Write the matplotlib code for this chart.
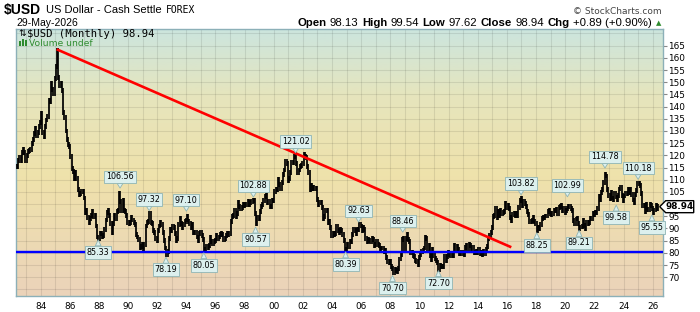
import matplotlib
matplotlib.use("Agg")
import matplotlib.pyplot as plt
import numpy as np
from matplotlib.colors import LinearSegmentedColormap
from matplotlib.patches import Polygon, Rectangle
from matplotlib.transforms import IdentityTransform

W, H = 700, 312

# DATA - monthly closes of $USD, first bar is May 1982
start_year, start_month = 1982, 5
usd_1980s = [
    115.5, 118.0, 119.0, 118.0, 121.0, 122.5, 121.0, 118.0,                     # 1982
    120.0, 121.5, 122.0, 122.5, 125.0, 126.5, 129.0, 131.0, 128.0, 129.5, 132.0, 133.5,
    137.0, 129.5, 127.5, 132.0, 134.5, 136.0, 142.5, 142.0, 149.5, 147.0, 145.5, 151.5,
    156.5, 163.0, 152.0, 148.5, 149.5, 146.5, 137.5, 135.5, 130.0, 126.5, 124.5, 123.5,
    119.5, 114.5, 113.5, 110.5, 113.0, 110.5, 106.0, 104.0, 104.5, 105.0, 105.0, 102.5,
    96.5, 97.5, 94.5, 92.5, 94.0, 95.5, 97.0, 95.0, 95.5, 91.0, 86.5, 86.0,
    88.0, 88.0, 86.5, 87.0, 89.5, 93.5, 96.5, 97.5, 95.5, 92.0, 88.5, 92.0,
    95.5, 94.0, 97.0, 97.5, 104.5, 101.0, 97.5, 101.5, 97.5, 97.0, 95.5, 92.5,
]
usd_1990s = [
    92.0, 92.5, 94.5, 93.5, 92.5, 91.5, 87.5, 86.5, 85.5, 82.0, 82.5, 83.5,
    81.5, 83.5, 91.0, 92.5, 93.0, 96.0, 92.5, 92.0, 89.0, 88.5, 86.0, 85.0,
    89.0, 91.0, 92.5, 91.5, 88.5, 85.0, 82.0, 79.5, 80.5, 86.0, 89.5, 89.0,
    91.0, 90.5, 88.0, 85.0, 86.0, 91.5, 94.0, 92.0, 90.5, 91.5, 93.0, 93.5,
    95.0, 93.0, 92.0, 90.5, 91.5, 88.5, 88.5, 88.5, 86.5, 85.0, 88.0, 88.5,
    87.0, 85.5, 81.5, 81.5, 82.5, 82.0, 83.0, 86.5, 84.5, 84.0, 84.5, 85.0,
    87.0, 86.0, 86.5, 87.5, 88.0, 87.5, 85.5, 86.0, 87.0, 88.0, 87.5, 88.0,
    93.0, 95.0, 95.5, 97.5, 95.0, 96.0, 100.5, 99.0, 98.0, 98.5, 100.0, 99.5,
    100.0, 100.0, 101.0, 100.0, 100.5, 101.0, 101.5, 101.5, 96.0, 92.0, 94.5, 94.0,
    97.0, 99.0, 100.0, 101.5, 103.0, 103.5, 100.5, 101.0, 99.0, 99.0, 101.5, 101.5,
]
usd_2000s = [
    105.0, 106.0, 106.0, 110.0, 108.0, 106.5, 109.0, 112.0, 114.0, 117.5, 116.5, 109.5,
    110.5, 113.0, 117.0, 117.0, 119.5, 120.3, 116.5, 113.0, 114.0, 115.5, 116.0, 116.5,
    120.5, 119.5, 119.0, 115.5, 113.0, 106.0, 107.5, 106.5, 107.0, 106.5, 106.5, 102.0,
    100.0, 100.5, 100.5, 98.5, 94.0, 95.0, 97.5, 97.5, 92.5, 93.0, 90.5, 87.0,
    88.0, 87.5, 88.0, 91.0, 89.0, 88.5, 89.5, 89.0, 87.5, 85.0, 81.5, 81.0,
    83.5, 82.5, 84.5, 84.5, 87.5, 89.5, 89.0, 88.0, 89.5, 89.5, 91.5, 91.0,
    89.0, 90.5, 89.5, 86.0, 84.5, 85.5, 85.0, 84.5, 86.0, 85.5, 83.0, 83.5,
    84.5, 83.5, 83.0, 81.5, 82.0, 82.0, 80.5, 81.0, 78.0, 76.5, 76.0, 76.5,
    74.5, 73.5, 72.0, 73.0, 72.8, 72.5, 73.5, 77.5, 79.5, 85.5, 86.0, 81.5,
    86.0, 87.5, 85.5, 84.5, 80.0, 80.0, 79.0, 78.5, 76.8, 76.5, 75.0, 78.0,
]
usd_2010s = [
    79.5, 80.5, 81.0, 82.0, 86.5, 86.0, 81.5, 83.0, 79.0, 77.2, 81.2, 79.0,
    77.6, 76.8, 76.0, 73.3, 74.7, 74.3, 74.2, 74.5, 78.6, 76.9, 78.5, 80.2,
    79.3, 78.9, 79.0, 78.9, 83.2, 81.6, 82.7, 81.2, 79.9, 79.9, 80.1, 79.8,
    79.3, 82.2, 83.0, 81.9, 83.5, 83.1, 81.5, 82.1, 80.2, 80.2, 80.7, 80.2,
    81.2, 79.7, 80.1, 79.5, 80.4, 79.8, 81.5, 82.7, 86.0, 87.0, 88.4, 90.3,
    94.8, 95.3, 98.4, 94.6, 96.9, 95.5, 97.3, 96.0, 96.4, 96.9, 100.2, 98.7,
    99.6, 98.2, 94.6, 93.1, 95.9, 96.1, 95.5, 96.0, 95.5, 98.5, 101.5, 102.2,
    99.5, 101.1, 100.4, 99.0, 97.0, 95.6, 92.9, 92.7, 93.1, 94.5, 93.0, 92.1,
    89.1, 90.6, 89.9, 91.8, 94.0, 94.5, 94.5, 95.1, 95.1, 97.1, 97.3, 96.2,
    95.6, 96.2, 97.3, 97.5, 97.8, 96.1, 98.5, 98.9, 99.4, 97.4, 98.3, 96.4,
]
usd_2020s = [
    97.4, 98.1, 99.0, 99.0, 98.3, 97.4, 93.3, 92.1, 93.9, 94.0, 91.9, 89.9,
    90.6, 90.9, 93.2, 91.3, 90.0, 92.4, 92.2, 92.6, 94.2, 94.1, 96.0, 95.7,
    96.5, 96.7, 98.3, 103.0, 101.8, 104.7, 105.9, 108.7, 112.1, 111.5, 105.9, 103.5,
    102.1, 104.9, 102.5, 101.7, 104.3, 102.9, 101.9, 103.6, 106.2, 106.7, 103.5, 101.3,
    103.3, 104.2, 104.5, 106.2, 104.7, 105.9, 104.1, 101.7, 100.8, 104.0, 105.7, 108.5,
    108.4, 107.6, 104.2, 99.5, 99.3, 96.9, 100.0, 97.8, 97.8, 99.8, 99.5, 98.3,
    96.6, 97.6, 99.5, 98.1, 98.94,                                               # 2026
]

# marked highs and lows
mark_years = [1987.95, 1989.45, 1991.45, 1992.6, 1994.0, 1995.2, 1998.6, 1998.75,
              2001.5, 2004.93, 2005.82, 2008.15, 2008.85, 2011.3, 2016.97, 2018.05,
              2020.15, 2020.95, 2022.73, 2023.5, 2025.0, 2025.95]
mark_values = [85.33, 106.56, 97.32, 78.19, 97.10, 80.05, 102.88, 90.57,
               121.02, 80.39, 92.63, 70.70, 88.46, 72.70, 103.82, 88.25,
               102.99, 89.21, 114.78, 99.58, 110.18, 95.55]
mark_high = [False, True, True, False, True, False, True, False,
             True, False, True, False, True, False, True, False,
             True, False, True, False, True, False]

# drawn trend line and support
trend_years = [1985.1, 2016.3]
trend_values = [163.5, 82.3]
support_level = 80.4

# header quote
quote_names = ["Open", "High", "Low", "Close", "Chg"]
quote_values = ["98.13", "99.54", "97.62", "98.94", "+0.89 (+0.90%)"]
last_close = 98.94

closes = np.array(usd_1980s + usd_1990s + usd_2000s + usd_2010s + usd_2020s)
t = start_year + (start_month - 1 + np.arange(len(closes)) + 0.5) / 12
prev = np.concatenate([[closes[0]], closes[:-1]])
pad = 1.0
lo = np.minimum(prev, closes) - pad
hi = np.maximum(prev, closes) + pad

fig = plt.figure(figsize=(W / 100, H / 100), dpi=100)
ax = fig.add_axes([16 / W, 1 - 296 / H, (662.7 - 16) / W, (296 - 29.3) / H])
xmin, xmax, ymin, ymax = 1982.31, 2026.69, 62.3, 171.7
ax.set_xlim(xmin, xmax)
ax.set_ylim(ymin, ymax)

# background gradient
cmap = LinearSegmentedColormap.from_list(
    "bg", [(0, "#ebd3ba"), (0.45, "#efe2ab"), (0.75, "#e6e5bd"), (1, "#cce5de")])
ax.imshow(np.linspace(0, 1, 256).reshape(-1, 1), extent=[xmin, xmax, ymin, ymax],
          origin="lower", aspect="auto", cmap=cmap, zorder=0)

for yr in range(1983, 2027):
    ax.axvline(yr, color="black", alpha=0.09, lw=0.8, zorder=1)
for v in range(65, 171, 5):
    ax.axhline(v, color="black", alpha=0.09, lw=0.8, zorder=1)

ax.vlines(t, lo, hi, color="black", lw=1.25, zorder=3)
ax.plot(trend_years, trend_values, color="#ff0000", lw=1.9, zorder=4, solid_capstyle="butt")
ax.axhline(support_level, color="#0000ff", lw=1.7, zorder=4)

for yr, v, up in zip(mark_years, mark_values, mark_high):
    ax.annotate(f"{v:.2f}", xy=(yr, v), xytext=(0, 8 if up else -9), textcoords="offset points",
                ha="center", va="center", fontsize=5.8, family="DejaVu Sans", zorder=6,
                bbox=dict(boxstyle="square,pad=0.22", fc="#dcf0ee", ec="#8fb5b5", lw=0.6),
                arrowprops=dict(arrowstyle="wedge,tail_width=0.7", fc="#dcf0ee", ec="#8fb5b5",
                                lw=0.6, shrinkA=0, shrinkB=0))

# axes styling
for s in ax.spines.values():
    s.set_color("#8cb0b8")
    s.set_linewidth(1.0)
ax.yaxis.tick_right()
yt = np.arange(70, 166, 5)
ax.set_yticks(yt)
# the 100 label sits under the last-price tag
ax.set_yticklabels(["" if v == 100 else str(v) for v in yt])
ax.tick_params(axis="y", direction="out", length=3, color="#888888", labelsize=6.4, pad=1)
xt = np.arange(1984, 2027, 2)
ax.set_xticks(xt)
ax.set_xticklabels([f"{y % 100:02d}" for y in xt])
ax.tick_params(axis="x", length=0, labelsize=6.4, pad=4)

# header texts
renderer = fig.canvas.get_renderer()


def run(x, y, parts, right=False, gap=3.5):
    seq = parts[::-1] if right else parts
    for s, kw in seq:
        tx = fig.text(x / W, 1 - y / H, s, ha="right" if right else "left", va="center", **kw)
        bb = tx.get_window_extent(renderer)
        x = bb.x0 - gap if right else bb.x1 + gap


sans = dict(family="Liberation Sans", fontsize=8)
run(4, 10, [("$USD", dict(family="Liberation Sans", fontsize=10, fontweight="bold")),
            ("US Dollar - Cash Settle", sans),
            ("FOREX", dict(family="DejaVu Sans Mono", fontsize=7))], gap=4.5)
fig.text(16 / W, 1 - 23 / H, "29-May-2026", ha="left", va="center", family="Liberation Sans", fontsize=7.5)
fig.text(662 / W, 1 - 11 / H, "\u00a9 StockCharts.com", ha="right", va="center",
         family="DejaVu Sans", fontsize=6.5, color="#444444")
parts = []
for name, val in zip(quote_names, quote_values):
    parts.append((name, dict(family="Liberation Sans", fontsize=8.2, fontweight="bold")))
    parts.append((val, dict(family="Liberation Sans", fontsize=8.2)))
parts.append(("\u25b2", dict(family="DejaVu Sans", fontsize=5, color="#2e8b2e")))
run(661, 23, parts, right=True)

fig.text(18 / W, 1 - 34 / H, "\u21c5", ha="left", va="center", family="DejaVu Sans", fontsize=6.5)
fig.text(27 / W, 1 - 34 / H, "$USD (Monthly) 98.94", ha="left", va="center",
         family="DejaVu Sans Mono", fontsize=7.6)
for i, h in enumerate([5, 7, 6]):
    fig.add_artist(Rectangle(((19 + i * 3) / W, 1 - 46 / H), 2 / W, h / H,
                             transform=fig.transFigure, fc="#2e8b2e", ec="none"))
fig.text(29 / W, 1 - 43 / H, "Volume undef", ha="left", va="center",
         family="DejaVu Sans", fontsize=6.6, color="#2e8b2e")

# last price tag
x0, yc = ax.transData.transform((xmax, last_close))
x0 = x0 - 3
pts = [(x0, yc), (x0 + 6, yc + 6), (x0 + 34, yc + 6), (x0 + 34, yc - 6), (x0 + 6, yc - 6)]
fig.add_artist(Polygon(pts, closed=True, transform=IdentityTransform(), fc="white",
                       ec="black", lw=1.0, zorder=10))
fig.text((x0 + 20) / W, yc / H, f"{last_close:.2f}", ha="center", va="center",
         family="DejaVu Sans", fontsize=6.4, fontweight="bold", zorder=11)

fig.savefig("out.png", dpi=100)
